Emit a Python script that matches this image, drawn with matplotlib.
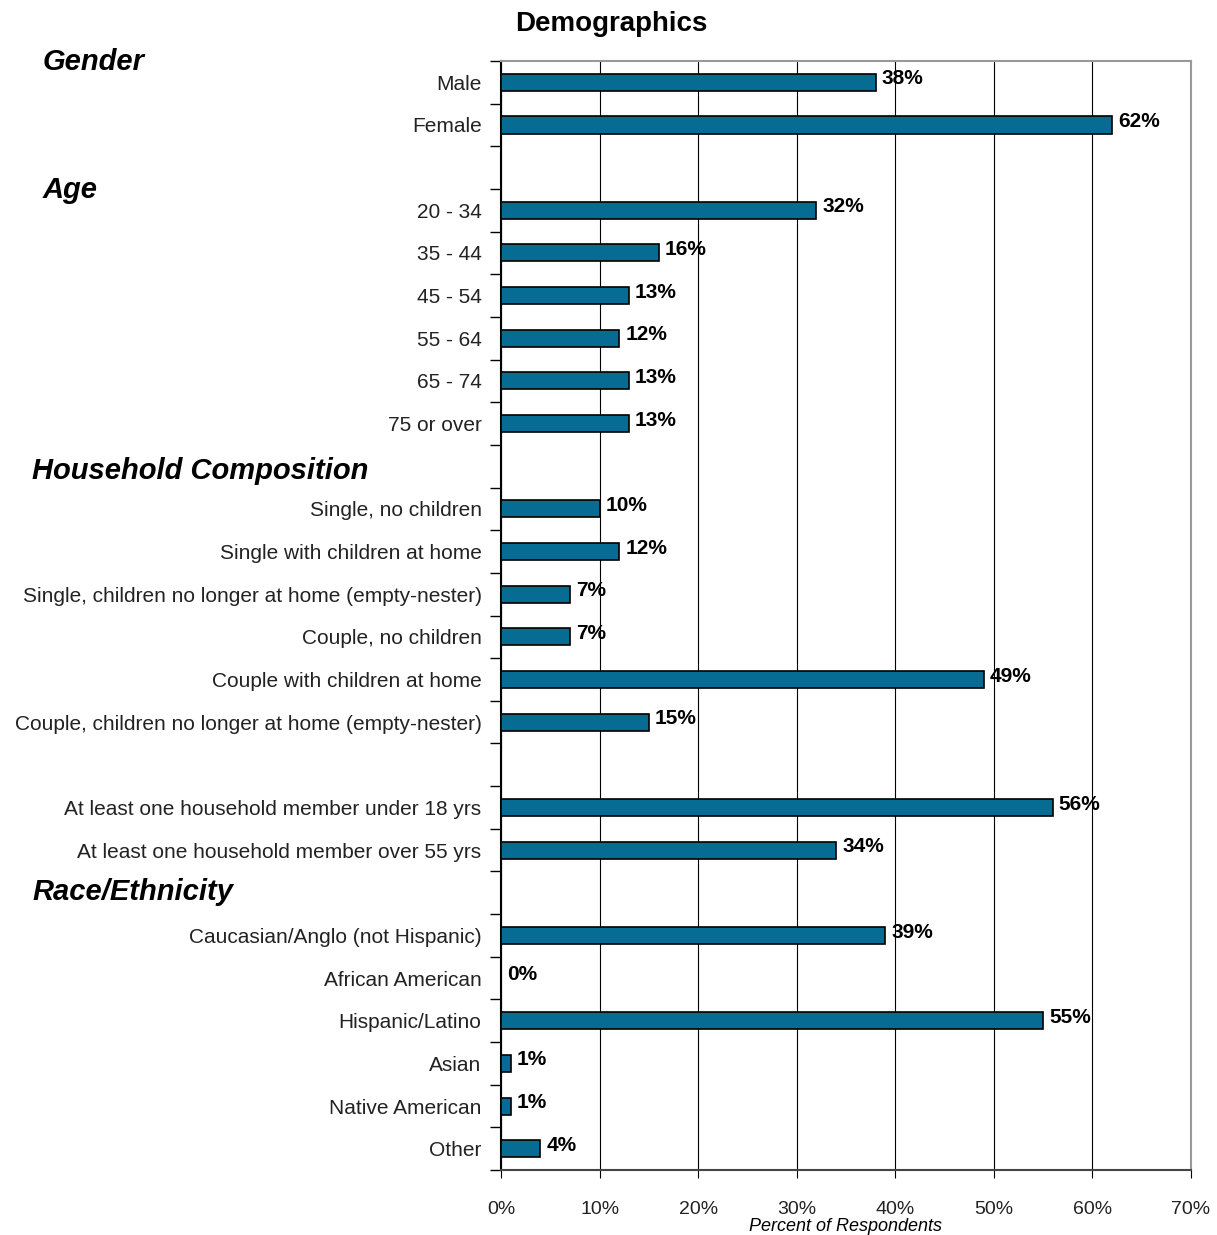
import numpy as np
import matplotlib.pyplot as plt
from matplotlib.ticker import FixedLocator

plt.rcParams['font.family'] = ['Liberation Sans', 'DejaVu Sans']

# None marks an empty slot between groups
labels = ['Male', 'Female', None,
          '20 - 34', '35 - 44', '45 - 54', '55 - 64', '65 - 74', '75 or over', None,
          'Single, no children', 'Single with children at home',
          'Single, children no longer at home (empty-nester)', 'Couple, no children',
          'Couple with children at home', 'Couple, children no longer at home (empty-nester)', None,
          'At least one household member under 18 yrs', 'At least one household member over 55 yrs', None,
          'Caucasian/Anglo (not Hispanic)', 'African American', 'Hispanic/Latino', 'Asian',
          'Native American', 'Other']
values = [38, 62, None,
          32, 16, 13, 12, 13, 13, None,
          10, 12, 7, 7, 49, 15, None,
          56, 34, None,
          39, 0, 55, 1, 1, 4]
groups = ['Gender', 'Age', 'Household Composition', 'Race/Ethnicity']
group_pos = [0, 3, 10, 20]

n = len(labels)
ypos = np.arange(n)

fig = plt.figure(figsize=(12.17, 12.35), dpi=100)
ax = fig.add_axes([0.4117, 0.0526, 0.5669, 0.898])

color = '#066c93'
for y, lab, v in zip(ypos, labels, values):
    if v is None:
        continue
    ax.barh(y, v, height=0.4, color=color, edgecolor='black', linewidth=1.2, zorder=3)
    ax.text(v + 0.6, y - 0.08, f'{v}%', ha='left', va='center', fontsize=15,
            fontweight='bold', zorder=4)

ax.set_ylim(n - 0.5, -0.5)
ax.set_xlim(0, 70)
ax.set_xticks(np.arange(0, 71, 10))
ax.set_xticklabels([f'{t}%' for t in range(0, 71, 10)], fontsize=14, color='#222222')
ax.xaxis.grid(True, color='black', linewidth=0.8, zorder=0)
ax.set_axisbelow(True)

ax.set_yticks(ypos)
ax.set_yticklabels([l if l else '' for l in labels], fontsize=15, color='#222222')
ax.tick_params(axis='y', length=0, pad=14)
ax.yaxis.set_minor_locator(FixedLocator(np.arange(-0.5, n, 1)))
ax.tick_params(axis='y', which='minor', length=8, width=1, direction='out')
ax.tick_params(axis='x', length=6, direction='out', pad=16)

for s in ['top', 'right']:
    ax.spines[s].set_color('#999999')
    ax.spines[s].set_linewidth(1.5)
ax.spines['left'].set_linewidth(1.5)
ax.spines['bottom'].set_linewidth(1.5)
ax.spines['bottom'].set_color('#444444')

ax.set_xlabel('Percent of Respondents', fontsize=13, fontstyle='italic', labelpad=0)

for g, p in zip(groups, group_pos):
    x0 = 43 / 1217 if p < 10 else 32 / 1217
    yc = {0: 62, 3: 190, 10: 471, 20: 892}[p]
    fig.text(x0, 1 - yc / 1235, g, fontsize=21, fontstyle='italic', fontweight='bold',
             va='center', ha='left')

fig.text(611 / 1217, 1 - 24 / 1235, 'Demographics', fontsize=20, fontweight='bold',
         ha='center', va='center')

plt.savefig('out.png', dpi=100)
